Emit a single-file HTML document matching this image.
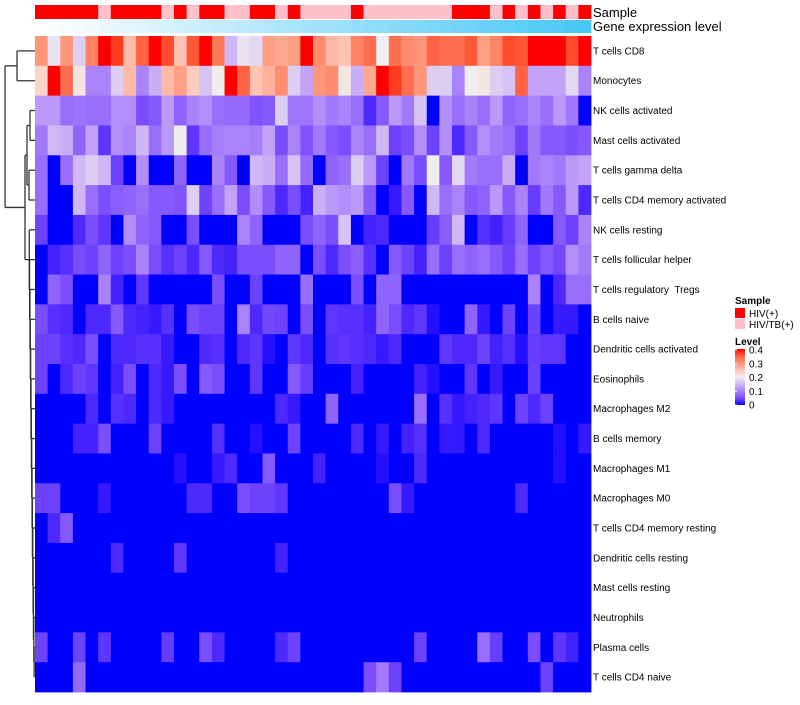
<!DOCTYPE html>
<html><head><meta charset="utf-8"><style>
body{margin:0;background:#fff;}
svg text{font-family:"Liberation Sans",Arial,sans-serif;}
</style></head><body>
<svg id="chart" width="800" height="700" viewBox="0 0 800 700" xmlns="http://www.w3.org/2000/svg">
<g id="dendro" stroke="#333" stroke-width="1.3" fill="none"></g>
<g id="anno"></g>
<g id="cells"></g>
<g id="labels"></g>
<text x="593" y="17" font-size="13">Sample</text>
<text x="593" y="31" font-size="13">Gene expression level</text>
<g>
<text x="735" y="304" font-size="10" font-weight="bold">Sample</text>
<rect x="735" y="308" width="10" height="10" fill="#FF0000"/>
<text x="749" y="317" font-size="10">HIV(+)</text>
<rect x="735" y="319" width="10" height="10" fill="#FFC0CB"/>
<text x="749" y="328" font-size="10">HIV/TB(+)</text>
<text x="735" y="345" font-size="10" font-weight="bold">Level</text>
<defs><linearGradient id="lg" x1="0" y1="1" x2="0" y2="0"></linearGradient></defs>
<rect x="735" y="349" width="10" height="56" fill="url(#lg)"/>
<g id="lticks" font-size="10"></g>
</g>
</svg>
<script>
const rowNames=["T cells CD8","Monocytes","NK cells activated","Mast cells activated","T cells gamma delta","T cells CD4 memory activated","NK cells resting","T cells follicular helper","T cells regulatory  Tregs","B cells naive","Dendritic cells activated","Eosinophils","Macrophages M2","B cells memory","Macrophages M1","Macrophages M0","T cells CD4 memory resting","Dendritic cells resting","Mast cells resting","Neutrophils","Plasma cells","T cells CD4 naive"];
const sampleGroups="RRRRRPRRRRPRPRRPPRRPRPPPPRPPPPPPPRRRPRPRPRPR".split("");
const legendTicks=[0,0.1,0.2,0.3,0.4];
const row0=[.3,.19,.3,.17,.32,.4,.38,.26,.35,.4,.37,.25,.36,.4,.33,.15,.19,.18,.29,.28,.29,.4,.31,.26,.25,.32,.34,.2,.34,.31,.3,.35,.34,.34,.36,.29,.32,.37,.36,.4,.4,.4,.37,.4];
const row1=[.23,.4,.34,.21,.1,.1,.17,.26,.1,.14,.26,.29,.24,.16,.2,.4,.35,.25,.27,.31,.17,.13,.3,.31,.21,.14,.28,.4,.38,.34,.3,.17,.17,.1,.2,.21,.17,.16,.35,.13,.13,.13,.18,.1];
const row2=[.12,.12,.08,.085,.08,.08,.11,.11,.05,.06,.12,.07,.1,.11,.08,.075,.075,.055,.06,.17,.085,.085,.11,.09,.1,.08,.02,.06,.12,.09,.16,0,.11,.08,.1,.08,.12,.07,.08,.1,.08,.12,.09,0];
const row3=[.09,.15,.14,.07,.13,.03,.11,.1,.15,.08,.12,.2,.03,.08,.095,.1,.1,.095,.13,.05,.1,.055,.09,.06,.05,.1,.08,.15,.04,.05,.11,.04,.11,.02,.06,.11,.09,.08,.04,.09,.06,.06,.05,.06];
const row4=[.08,0,.08,.15,.17,.15,.04,0,.11,0,0,.07,0,0,.1,.06,0,.15,.14,.08,.16,.075,0,.07,.08,.17,.12,.04,0,.09,.05,.2,.06,.18,.09,.08,.08,.14,0,.09,.1,.09,.12,.13];
const row5=[.08,0,0,.15,.08,.05,.065,.07,.08,.06,.06,.055,.17,.04,.08,.13,.05,.11,.06,.02,.05,.015,.14,.12,.11,.12,.06,0,.01,.06,0,.15,.08,.1,.06,.07,.12,.06,.1,.035,.09,.06,.12,.02];
const row6=[.04,0,0,.02,.05,.03,0,.11,.07,.06,0,0,.05,0,0,0,.1,.07,0,0,0,.05,.07,.05,.16,0,.015,.02,0,0,0,.035,.065,.15,0,.025,.015,.035,.07,0,0,.06,.04,.1];
const row7=[0,.015,.025,.05,.04,.07,.04,.05,.1,.05,.025,.04,.02,.06,.02,.015,.05,.05,.05,.07,.07,0,.05,.02,.05,.065,.025,0,.06,.04,.015,.08,.04,.08,.07,.08,.06,.04,.08,.04,.06,.045,.11,.09];
const row8=[0,.07,.05,0,0,.1,.015,0,.03,0,0,0,0,0,.05,0,0,.04,0,0,0,.08,0,0,0,.05,0,.07,.07,0,0,0,0,0,0,0,0,0,0,.1,0,.02,.08,.08];
const row9=[.05,.025,.02,0,.02,.02,.06,.02,.015,.01,.025,0,.05,.04,.04,0,.1,.02,.045,.04,0,.05,0,.03,.025,.025,.015,.07,.05,.02,.03,.005,0,0,.07,.01,0,.04,0,.04,0,.01,.01,0];
const row10=[.04,.04,.025,.02,.05,0,.02,.02,.025,.025,.01,0,0,.02,.025,0,.02,.03,.005,0,.03,.02,0,.025,.03,.025,.02,.01,.02,0,0,0,.03,.02,.02,.04,.015,.025,.005,.035,.03,.03,0,0];
const row11=[.04,0,.02,.04,.03,0,.015,.05,0,.02,.01,.05,0,.06,.05,0,0,.03,0,0,.06,.035,0,0,0,.015,0,0,0,0,.015,.005,0,0,.03,0,.01,0,0,.04,0,0,0,0];
const row12=[0,0,0,0,.02,0,.025,.02,0,.02,.01,0,0,0,0,0,0,0,0,.02,.01,0,0,.07,0,0,0,0,0,0,.08,0,.025,.01,.015,.02,.03,0,.04,.02,.04,0,0,0];
const row13=[0,0,0,.015,.015,.05,0,0,0,.04,0,0,0,0,.025,0,0,.005,0,0,.04,0,0,0,0,.02,0,.01,0,.015,.025,0,.01,.01,0,.02,0,0,0,0,0,.005,0,.01];
const row14=[0,0,0,0,0,0,0,0,0,0,0,.005,0,0,.01,.02,0,0,.06,0,0,0,.015,0,0,0,0,.005,0,0,.02,0,0,0,0,0,0,0,0,0,0,.005,0,0];
const row15=[.04,.04,0,0,0,.01,0,0,0,0,0,0,.02,.02,0,0,.05,.04,.04,.03,0,0,0,0,0,0,0,0,.05,.01,0,0,0,0,0,0,0,0,.02,0,0,0,0,0];
const row16=[0,.02,.06,0,0,0,0,0,0,0,0,0,0,0,0,0,0,0,0,0,0,0,0,0,0,0,0,0,0,0,0,0,0,0,0,0,0,0,0,0,0,0,0,0];
const row17=[0,0,0,0,0,0,.02,0,0,0,0,.03,0,0,0,0,0,0,0,.015,0,0,0,0,0,0,0,0,0,0,0,0,0,0,0,0,0,0,0,0,0,0,0,0];
const row18=[0,0,0,0,0,0,0,0,0,0,0,0,0,0,0,0,0,0,0,0,0,0,0,0,0,0,0,0,0,0,0,0,0,0,0,0,0,0,0,0,0,0,0,0];
const row19=[0,0,0,0,0,0,0,0,0,0,0,0,0,0,0,0,0,0,0,0,0,0,0,0,0,0,0,0,0,0,0,0,0,0,0,0,0,0,0,0,0,0,0,0];
const row20=[.04,0,0,.04,0,.03,0,0,0,0,.035,0,0,.05,.02,0,0,0,0,.02,.04,0,0,0,0,0,0,0,0,0,.04,0,0,0,0,.08,.035,0,0,.05,0,.03,.015,0];
const row21=[0,0,0,.075,0,0,0,0,0,0,0,0,0,0,0,0,0,0,0,0,0,0,0,0,0,0,.05,.09,.04,0,0,0,0,0,0,0,0,0,0,0,.04,0,0,0];
const matrix=[row0,row1,row2,row3,row4,row5,row6,row7,row8,row9,row10,row11,row12,row13,row14,row15,row16,row17,row18,row19,row20,row21];

const NS="http://www.w3.org/2000/svg";
const X0=35,X1=591,Y0=36,Y1=692;
const nC=sampleGroups.length,nR=rowNames.length;
const cw=(X1-X0)/nC,rh=(Y1-Y0)/nR;
const xPos=c=>X0+c*cw, yPos=r=>Y0+r*rh;
function mk(t,a){const e=document.createElementNS(NS,t);for(const k in a)e.setAttribute(k,a[k]);return e;}
function s2l(c){c/=255;return c<=0.04045?c/12.92:Math.pow((c+0.055)/1.055,2.4);}
function l2s(c){c=c<=0.0031308?12.92*c:1.055*Math.pow(c,1/2.4)-0.055;return Math.max(0,Math.min(255,Math.round(c*255)));}
function toLab(r,g,b){r=s2l(r);g=s2l(g);b=s2l(b);let X=(r*0.4124+g*0.3576+b*0.1805)/0.95047,Y=r*0.2126+g*0.7152+b*0.0722,Z=(r*0.0193+g*0.1192+b*0.9505)/1.08883;const f=t=>t>0.008856?Math.cbrt(t):7.787*t+16/116;X=f(X);Y=f(Y);Z=f(Z);return[116*Y-16,500*(X-Y),200*(Y-Z)];}
function fromLab(L,a,b){let Y=(L+16)/116,X=a/500+Y,Z=Y-b/200;const f=t=>t*t*t>0.008856?t*t*t:(t-16/116)/7.787;X=f(X)*0.95047;Y=f(Y);Z=f(Z)*1.08883;const r=X*3.2406+Y*-1.5372+Z*-0.4986,g=X*-0.9689+Y*1.8758+Z*0.0415,bb=X*0.0557+Y*-0.2040+Z*1.0570;return`rgb(${l2s(r)},${l2s(g)},${l2s(bb)})`;}
const stops=[[0,toLab(0,0,255)],[0.2,toLab(238,238,238)],[0.4,toLab(255,0,0)]];
function col(v){v=Math.max(0,Math.min(0.4,v));const i=v<=0.2?0:1;const[a,la]=stops[i],[b,lb]=stops[i+1];const t=(v-a)/(b-a);return fromLab(la[0]+(lb[0]-la[0])*t,la[1]+(lb[1]-la[1])*t,la[2]+(lb[2]-la[2])*t);}

const cells=document.getElementById('cells');
matrix.forEach((row,r)=>row.forEach((v,c)=>{
  const e=mk('rect',{x:xPos(c),y:yPos(r),width:cw+0.4,height:rh+0.4,fill:col(v)});
  
  
  cells.appendChild(e);
}));
const anno=document.getElementById('anno');
sampleGroups.forEach((g,c)=>{
  const e=mk('rect',{x:xPos(c),y:5,width:cw+0.4,height:14,fill:g==="R"?"#FF0000":"#FFC0CB"});
  
  
  anno.appendChild(e);
  const t=c/(nC-1);
  const ge=mk('rect',{x:xPos(c),y:20,width:cw+0.4,height:13,fill:`rgb(${Math.round(255-183*t)},${Math.round(255-56*t)},${Math.round(255-10*t)})`});
  
  
  anno.appendChild(ge);
});
const labels=document.getElementById('labels');
rowNames.forEach((n,r)=>{
  const t=mk('text',{x:593,y:yPos(r)+rh/2+3.5,'font-size':10,fill:'#000'});
  t.setAttribute('xml:space','preserve');
  t.style.whiteSpace='pre';
  t.textContent=n;
  
  
  labels.appendChild(t);
});
const lg=document.getElementById('lg');
for(let i=0;i<=8;i++){const s=mk('stop',{offset:i/8,'stop-color':col(0.4*i/8)});lg.appendChild(s);}
const lt=document.getElementById('lticks');
legendTicks.forEach(v=>{
  const y=405-v/0.4*55;
  const t=mk('text',{x:749,y:y+3.5});
  t.textContent=v===0?"0":String(v);
  
  
  lt.appendChild(t);
  lt.appendChild(mk('line',{x1:735,x2:737,y1:y,y2:y,stroke:'#fff'}));
});
const d=document.getElementById('dendro');
const cy=r=>yPos(r)+rh/2;
function seg(x1,y1,x2,y2){d.appendChild(mk('line',{x1,y1,x2,y2}));}
seg(17,cy(0),35,cy(0));seg(17,cy(1),35,cy(1));seg(17,cy(0),17,cy(1));
const topMid=(cy(0)+cy(1))/2;
seg(30,cy(2),35,cy(2));seg(30,cy(3),35,cy(3));seg(30,cy(2),30,cy(3));
seg(29,cy(4),35,cy(4));seg(29,cy(5),35,cy(5));seg(29,cy(4),29,cy(5));
const a1=(cy(2)+cy(3))/2,a2=(cy(4)+cy(5))/2;
seg(27,a1,30,a1);seg(27,a2,29,a2);seg(27,a1,27,a2);
let prevY=cy(21),prevX=34.5;
for(let r=20;r>=6;r--){
  const x=Math.max(29,34.5-(21-r)*0.35);
  seg(x,cy(r),35,cy(r));seg(x,prevY,prevX,prevY);seg(x,cy(r),x,prevY);
  prevY=(cy(r)+prevY)/2;prevX=x;
}
const am=(a1+a2)/2;
seg(25,am,27,am);seg(25,prevY,prevX,prevY);seg(25,am,25,prevY);
const bm=(am+prevY)/2;
seg(5,topMid,17,topMid);seg(5,bm,25,bm);seg(5,topMid,5,bm);
</script>
</body></html>
